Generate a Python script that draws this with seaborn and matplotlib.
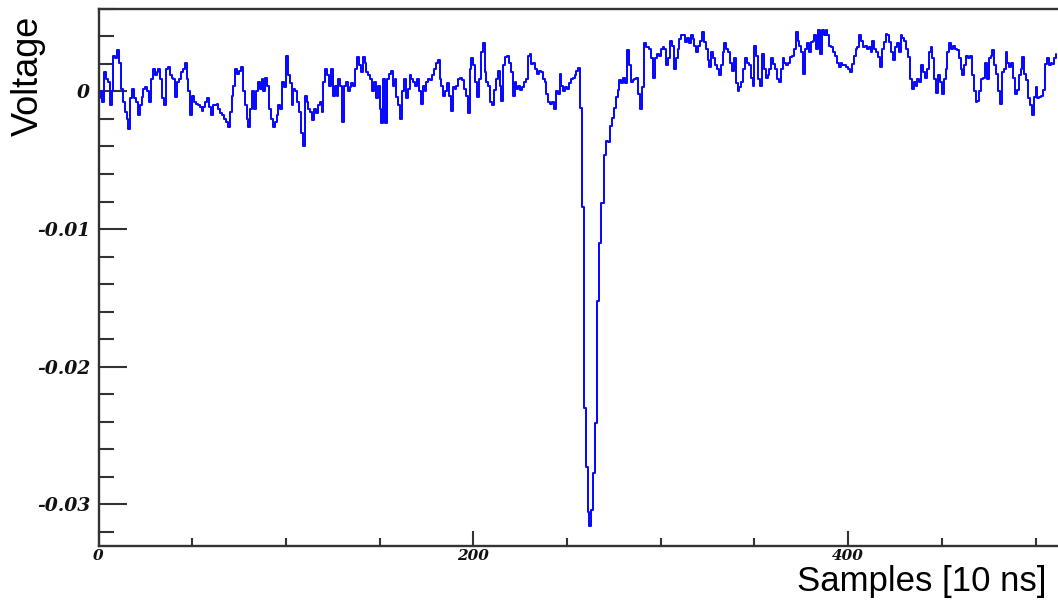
import numpy as np
import matplotlib
matplotlib.use("Agg")
import matplotlib.pyplot as plt
import seaborn as sns
from matplotlib.font_manager import FontProperties
from matplotlib.ticker import FixedLocator, FixedFormatter, MultipleLocator

# Digitised waveform, one value per 10 ns sample, in units of 0.1 mV
baseline_early = [  # samples 0-129
    -5, 0, -8, 14, 9, 7, -10, 0, 26, 24,
    30, 21, 2, -8, -15, -20, -27, -5, 2, -5,
    -8, -17, -10, -4, 2, 3, 0, -8, 9, 16,
    12, 14, 16, 9, -5, -10, 16, 18, 12, 10,
    9, -4, 7, 9, 14, 16, 21, 9, 0, -17,
    -3, -8, -9, -10, -11, -14, -11, -8, -5, -11,
    -17, -10, -10, -9, -13, -16, -17, -20, -22, -26,
    -15, -3, 4, 16, 13, 15, 18, 0, -10, -20,
    -26, -13, 0, -13, 0, 7, 2, 9, 0, 10,
    4, -13, -20, -26, -22, -17, -10, -13, 7, 3,
    26, 12, 6, -10, 2, 0, -8, -15, -30, -40,
    -3, -8, -13, -15, -21, -13, -16, -10, -8, -15,
    7, 16, 12, 4, 16, -3, 4, -3, 9, 4,
]
baseline_late = [  # samples 130-256
    -22, 4, 7, 0, 3, 6, 4,
    16, 25, 19, 14, 25, 21, 14,
    12, 9, 0, 7, -5, 4, -13, -23,
    9, -23, 9, 13, 15, 4, 9,
    -4, -10, -20, 0, 9, -5, 2, 12,
    9, 7, 4, 9, 0, -9, 4,
    0, 7, 9, 8, 12, 16, 21, 23,
    9, 4, -3, 0, 6, -3, -14,
    3, 2, 4, 9, 10, 8, 2, -3, -16,
    16, 24, 19, 7, -4, 9, 29, 35,
    14, 7, 4, -8, -10, 1, 9,
    15, 4, -7, 19, 25, 26, 21, 14, -3,
    7, 2, 4, 1, 3, 7, 9,
    26, 27, 20, 21, 16, 13, 15,
    14, 9, 7, -2, -8, -9, -8, -13,
    0, -2, 13, 4, 0, 3, 2,
    6, 9, 10, 12, 15, 17,
]
pulse = [  # samples 257-279
    -12, -84, -230, -273, -306, -316, -304, -277, -241, -152,
    -110, -81, -81, -46, -36, -37, -25, -19, -12, -4,
    1, 8, 6,
]
tail_early = [  # samples 280-384
    10, 6, 30, 19, 7, 8, 9, 10,
    -2, -13, 3, 35, 32, 32, 31, 24,
    10, 24, 27, 26, 31, 32, 31, 19,
    24, 37, 33, 16, 24, 31, 38, 41,
    41, 36, 39, 35, 41, 38, 33, 29,
    33, 37, 43, 36, 31, 23, 18, 29,
    24, 19, 16, 12, 19, 29, 35, 31,
    29, 21, 15, 24, 6, 0, 3, 7,
    16, 24, 21, 19, 10, 4, 33, 26,
    9, 4, 27, 16, 10, 12, 16, 24,
    20, 16, 9, 7, 16, 24, 21, 19,
    21, 25, 26, 31, 43, 37, 33, 29,
    13, 31, 35, 29, 36, 37, 41, 31, 45,
]
tail_late = [  # samples 385-511
    27, 45, 41, 45, 41, 33, 32, 29,
    26, 21, 18, 21, 19, 19, 18, 16,
    14, 20, 26, 31, 32, 41, 37, 32,
    33, 31, 32, 29, 37, 31, 29, 25,
    18, 31, 36, 42, 41, 36, 29, 23,
    32, 35, 29, 41, 39, 37, 31, 25,
    9, 2, 7, 4, 9, 7, 19, 14,
    10, 16, 29, 32, 24, 9, -1, 12,
    7, -2, 9, 16, 29, 35, 31, 33,
    31, 30, 24, 16, 12, 19, 26, 24,
    26, 12, 0, -8, -7, 0, 9, 10,
    21, 9, 24, 26, 30, 19, 13, 0, -9,
    14, 16, 29, 21, 18, 21, 10,
    -2, 1, 12, 16, 25, 13, 8, -5, -10, -17,
    -4, 3, -5, -4, -3, 1,
    20, 24, 19, 21, 20, 24, 27,
]

x_ticks = [0, 200, 400]
x_tick_labels = ["0", "200", "400"]
y_ticks = [0.0, -0.01, -0.02, -0.03]
y_tick_labels = ["0", "-0.01", "-0.02", "-0.03"]

trace = np.array(baseline_early + baseline_late + pulse + tail_early + tail_late,
                 dtype=float) * 1e-4          # 0.1 mV -> V
samples = np.arange(len(trace))

sns.set_style("white")
plt.rcParams["font.family"] = ["Liberation Sans", "DejaVu Sans"]

W, H = 1058, 609
fig = plt.figure(figsize=(W / 100, H / 100), dpi=100)
left_px, right_px, top_px, bottom_px = 98.5, 1058, 8.5, 546
ax = fig.add_axes([left_px / W, 1 - bottom_px / H,
                   (right_px - left_px) / W, (bottom_px - top_px) / H])

sns.lineplot(x=samples, y=trace, ax=ax, color="#0a0aff", linewidth=1.45,
             drawstyle="steps-post", estimator=None, legend=False)

ax.set_xlim(0, 512)
ax.set_ylim(-0.03304, 0.00603)

ax.xaxis.set_major_locator(FixedLocator(x_ticks))
ax.xaxis.set_major_formatter(FixedFormatter(x_tick_labels))
ax.xaxis.set_minor_locator(MultipleLocator(50))
ax.yaxis.set_major_locator(FixedLocator(y_ticks))
ax.yaxis.set_major_formatter(FixedFormatter(y_tick_labels))
ax.yaxis.set_minor_locator(MultipleLocator(0.002))

axis_col = "#333333"
ax.tick_params(axis="y", which="major", direction="in", length=20.5, width=1.5,
               color=axis_col, pad=6, left=True, right=False)
ax.tick_params(axis="y", which="minor", direction="in", length=11, width=1.5,
               color=axis_col, left=True, right=False)
ax.tick_params(axis="x", which="major", direction="in", length=11, width=1.5,
               color=axis_col, pad=2, bottom=True, top=False)
ax.tick_params(axis="x", which="minor", direction="in", length=6, width=1.5,
               color=axis_col, bottom=True, top=False)

y_font = FontProperties(family=["DejaVu Serif"], weight="bold", style="italic", size=13.5)
x_font = FontProperties(family=["DejaVu Serif"], weight="bold", style="italic", size=11)
for lab in ax.get_yticklabels():
    lab.set_fontproperties(y_font)
    lab.set_color("#111111")
for lab in ax.get_xticklabels():
    lab.set_fontproperties(x_font)
    lab.set_color("#111111")

for side in ("left", "bottom", "top"):
    ax.spines[side].set_color(axis_col)
    ax.spines[side].set_linewidth(1.7)
ax.spines["right"].set_visible(False)
ax.set_xlabel("")
ax.set_ylabel("")

fig.text(28 / W, 1 - 76 / H, "Voltage", rotation=90, ha="center", va="center",
         fontsize=26, color="black")
fig.text(797 / W, 1 - 591 / H, "Samples [10 ns]", ha="left", va="baseline",
         fontsize=25, color="black")

fig.savefig("out.png", dpi=100, facecolor="white")
